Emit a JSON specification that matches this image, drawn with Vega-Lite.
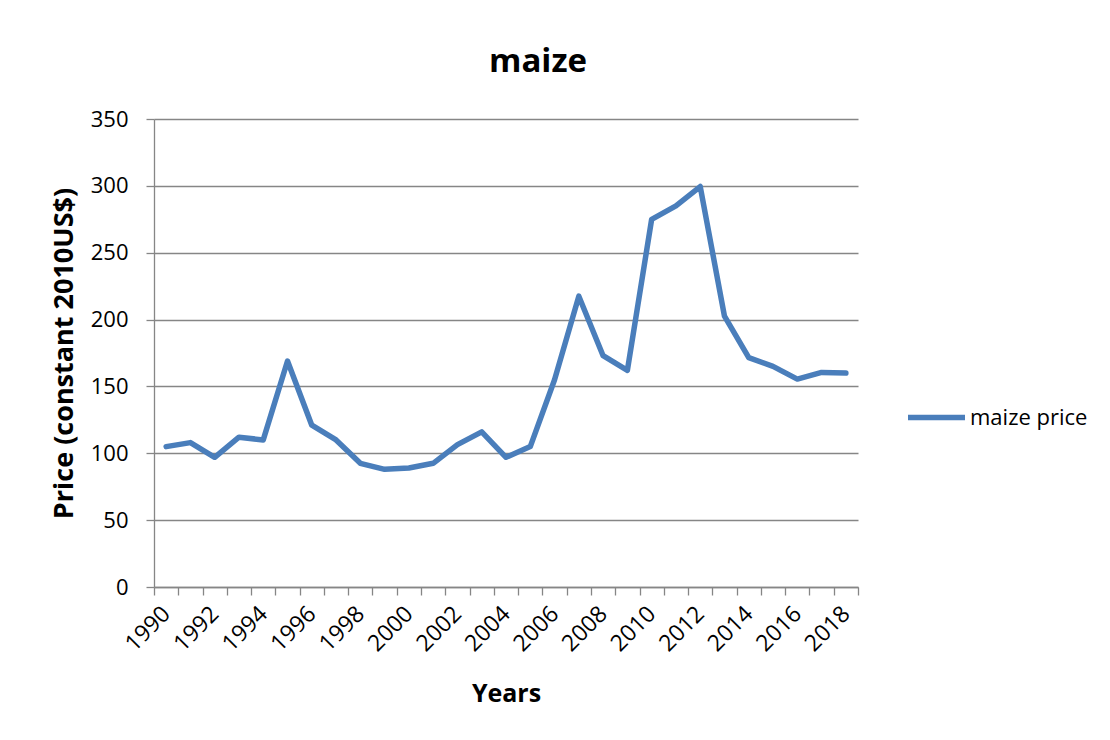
{
  "$schema": "https://vega.github.io/schema/vega-lite/v6.json",
  "width": 704,
  "height": 468,
  "autosize": "none",
  "padding": {"left": 154, "top": 119, "right": 252, "bottom": 153},
  "background": "white",
  "config": {"view": {"stroke": null}, "font": "Open Sans"},
  "title": {"text": "maize", "fontSize": 33, "fontWeight": "bold", "font": "Open Sans", "color": "#000000", "anchor": "middle", "dx": 32, "baseline": "alphabetic", "offset": 3},
  "data": {"values": [
    {"year": 1990, "price": 105, "series": "maize price"},
    {"year": 1991, "price": 108, "series": "maize price"},
    {"year": 1992, "price": 97, "series": "maize price"},
    {"year": 1993, "price": 112, "series": "maize price"},
    {"year": 1994, "price": 110, "series": "maize price"},
    {"year": 1995, "price": 169, "series": "maize price"},
    {"year": 1996, "price": 121, "series": "maize price"},
    {"year": 1997, "price": 110, "series": "maize price"},
    {"year": 1998, "price": 92.5, "series": "maize price"},
    {"year": 1999, "price": 88, "series": "maize price"},
    {"year": 2000, "price": 89, "series": "maize price"},
    {"year": 2001, "price": 92.5, "series": "maize price"},
    {"year": 2002, "price": 106.5, "series": "maize price"},
    {"year": 2003, "price": 116, "series": "maize price"},
    {"year": 2004, "price": 97, "series": "maize price"},
    {"year": 2005, "price": 105, "series": "maize price"},
    {"year": 2006, "price": 155, "series": "maize price"},
    {"year": 2007, "price": 217.5, "series": "maize price"},
    {"year": 2008, "price": 173, "series": "maize price"},
    {"year": 2009, "price": 162, "series": "maize price"},
    {"year": 2010, "price": 275, "series": "maize price"},
    {"year": 2011, "price": 285, "series": "maize price"},
    {"year": 2012, "price": 299.5, "series": "maize price"},
    {"year": 2013, "price": 202.5, "series": "maize price"},
    {"year": 2014, "price": 171.5, "series": "maize price"},
    {"year": 2015, "price": 165, "series": "maize price"},
    {"year": 2016, "price": 155.5, "series": "maize price"},
    {"year": 2017, "price": 160.5, "series": "maize price"},
    {"year": 2018, "price": 160, "series": "maize price"}
  ]},
  "layer": [
    {
      "mark": {"type": "line", "strokeWidth": 5.5, "strokeCap": "round", "strokeJoin": "round"},
      "encoding": {
        "x": {"field": "year", "type": "quantitative",
          "scale": {"domain": [1989.5, 2018.5], "nice": false, "zero": false},
          "axis": {"orient": "bottom", "values": [1989.5, 1990.5, 1991.5, 1992.5, 1993.5, 1994.5, 1995.5, 1996.5, 1997.5, 1998.5, 1999.5, 2000.5, 2001.5, 2002.5, 2003.5, 2004.5, 2005.5, 2006.5, 2007.5, 2008.5, 2009.5, 2010.5, 2011.5, 2012.5, 2013.5, 2014.5, 2015.5, 2016.5, 2017.5, 2018.5],
            "labels": false, "ticks": true, "tickSize": 8, "tickColor": "#868686", "tickWidth": 1.3,
            "domain": true, "domainColor": "#868686", "domainWidth": 1.3, "grid": false, "title": null}},
        "y": {"field": "price", "type": "quantitative",
          "scale": {"domain": [0, 350], "nice": false},
          "axis": {"values": [0, 50, 100, 150, 200, 250, 300, 350], "title": "Price (constant 2010US$)",
            "titleFont": "Open Sans", "titleFontSize": 27, "titleFontWeight": "bold", "titleColor": "#000000", "titlePadding": 12,
            "labelFont": "Open Sans", "labelFontSize": 22, "labelColor": "#000000", "labelPadding": 18,
            "tickSize": 8, "tickColor": "#868686", "tickWidth": 1.3,
            "domainColor": "#868686", "domainWidth": 1.3,
            "grid": true, "gridColor": "#868686", "gridWidth": 1.3}},
        "color": {"field": "series", "type": "nominal", "scale": {"range": ["#4A7EBB"]},
          "legend": {"orient": "none", "legendX": 751, "legendY": 267, "title": null,
            "symbolType": "stroke", "symbolSize": 3249, "symbolStrokeWidth": 5.5, "symbolStrokeColor": "#4A7EBB",
            "labelFont": "Open Sans", "labelFontSize": 22, "labelColor": "#000000", "labelOffset": 2}}
      }
    },
    {
      "mark": {"type": "point", "opacity": 0},
      "encoding": {
        "x": {"field": "year", "type": "quantitative",
          "axis": {"orient": "bottom", "values": [1990, 1992, 1994, 1996, 1998, 2000, 2002, 2004, 2006, 2008, 2010, 2012, 2014, 2016, 2018],
            "format": "d", "labelAngle": -45, "labelAlign": "right", "labelBaseline": "middle",
            "labelFont": "Open Sans", "labelFontSize": 23, "labelColor": "#000000", "labelPadding": 23,
            "ticks": false, "domain": false, "grid": false, "labelOverlap": false,
            "title": "Years", "titleFont": "Open Sans", "titleFontSize": 25, "titleFontWeight": "bold", "titleColor": "#000000", "titlePadding": 26}}
      }
    }
  ],
  "resolve": {"axis": {"x": "independent"}}
}
